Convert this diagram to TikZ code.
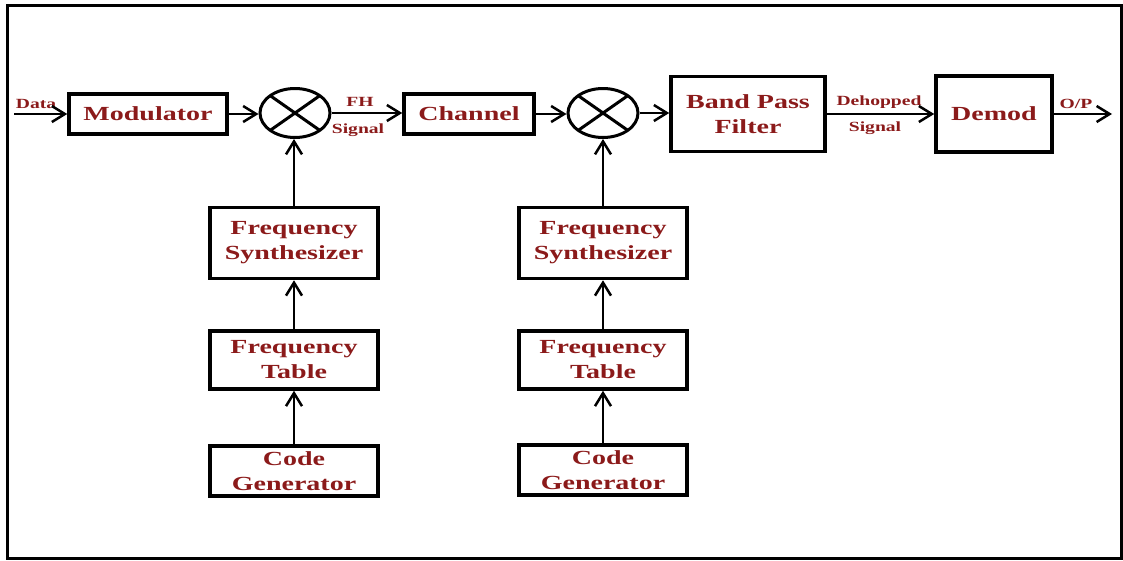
\documentclass[tikz,border=0pt]{standalone}
\usepackage{fontspec}
\setmainfont[FakeStretch=1.4]{Liberation Serif}
\usetikzlibrary{shapes.geometric,arrows.meta}
\definecolor{txtred}{RGB}{139,26,26}
\begin{document}
\begin{tikzpicture}[x=1pt,y=-1pt,
  block/.style={draw,line width=3.5pt,align=center,text=txtred,inner sep=0pt,
    font=\fontsize{20}{25}\selectfont\bfseries},
  mixer/.style={draw,ellipse,line width=3pt,minimum width=70pt,minimum height=49pt,inner sep=0pt,
    path picture={\draw[line width=3pt] (path picture bounding box.south west) -- (path picture bounding box.north east)
      (path picture bounding box.north west) -- (path picture bounding box.south east);}},
  lbl/.style={text=txtred,inner sep=0pt,font=\fontsize{14}{16}\selectfont\bfseries},
  arr/.style={line width=2.5pt,-{Straight Barb[length=13pt,width=16pt,line width=2.5pt]}}]
\useasboundingbox (0,0) rectangle (1123,560);
\draw[line width=3pt] (7,5) rectangle (1121,558);
% Transmitter and receiver chain
\node[block,minimum width=158pt,minimum height=40pt] (mod) at (148,114) {Modulator};
\node[mixer] (mixa) at (295,113) {};
\node[block,minimum width=130pt,minimum height=40pt] (chan) at (469,114) {Channel};
\node[mixer] (mixb) at (603,113) {};
\node[block,minimum width=154pt,minimum height=75pt] (bpf) at (748,114) {Band Pass\\Filter};
\node[block,minimum width=116pt,minimum height=76pt] (demod) at (994,114) {Demod};
\coordinate (in) at (14,114);
\coordinate (out) at (1112,114);
% Hopping sources
\node[block,minimum width=168pt,minimum height=71pt] (syna) at (294,243) {Frequency\\Synthesizer};
\node[block,minimum width=168pt,minimum height=58pt] (taba) at (294,360) {Frequency\\Table};
\node[block,minimum width=168pt,minimum height=50pt] (coda) at (294,471) {Code\\Generator};
\node[block,minimum width=168pt,minimum height=71pt] (synb) at (603,243) {Frequency\\Synthesizer};
\node[block,minimum width=168pt,minimum height=58pt] (tabb) at (603,360) {Frequency\\Table};
\node[block,minimum width=168pt,minimum height=50pt] (codb) at (603,470) {Code\\Generator};
% Labels
\node[lbl] (data) at (36,104) {Data};
\node[lbl] (fh) at (360,102) {FH};
\node[lbl] (fhsig) at (358,130) {Signal};
\node[lbl] (dehop) at (879,102) {Dehopped};
\node[lbl] (dehopsig) at (875,128) {Signal};
\node[lbl] (op) at (1076,104) {O/P};
% Connectors
\draw[arr] (in) -- (mod.west);
\draw[arr] (mod.east) -- (mod.east -| mixa.west);
\draw[arr] (mixa.east) -- (mixa.east -| chan.west);
\draw[arr] (chan.east) -- (chan.east -| mixb.west);
\draw[arr] (mixb.east) -- (mixb.east -| bpf.west);
\draw[arr] (bpf.east) -- (demod.west);
\draw[arr] (demod.east) -- (out);
\draw[arr] (syna.north) -- (syna.north |- mixa.south);
\draw[arr] (taba.north) -- (syna.south);
\draw[arr] (coda.north) -- (taba.south);
\draw[arr] (synb.north) -- (synb.north |- mixb.south);
\draw[arr] (tabb.north) -- (synb.south);
\draw[arr] (codb.north) -- (tabb.south);
\end{tikzpicture}
\end{document}
